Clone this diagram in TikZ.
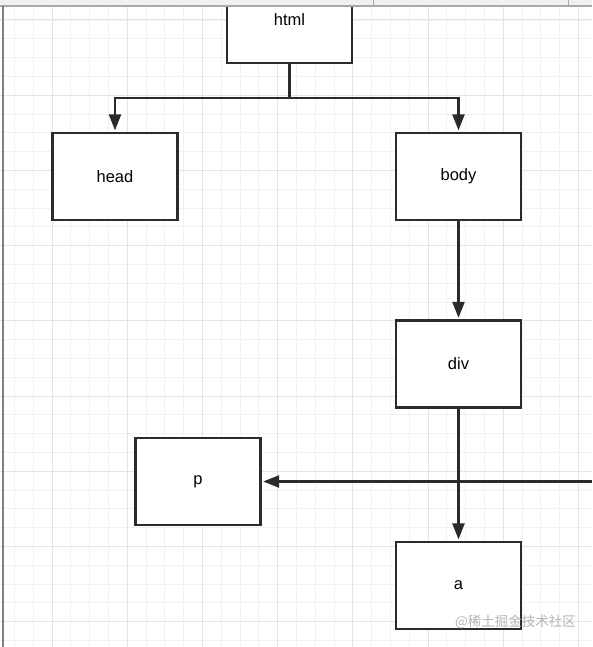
\documentclass[tikz,border=0pt]{standalone}
\usepackage{fontspec}
\setmainfont{Liberation Sans}
\newfontfamily\cjkfont{Noto Sans CJK SC}
\usepackage{xcolor}
\usepackage{tikz}
\usetikzlibrary{calc}
\usetikzlibrary{arrows.meta}

\definecolor{inkgray}{HTML}{2B2B2B}
\definecolor{gridminor}{HTML}{F1F1F1}
\definecolor{gridmajor}{HTML}{E4E4E4}
\definecolor{barfill}{HTML}{F0F0F0}
\definecolor{barline}{HTML}{A8A8A8}
\definecolor{markgray}{HTML}{B4B4B4}

\begin{document}
\begin{tikzpicture}[
    x = 1pt,
    y = -1pt,
    font = \fontsize{16.5}{18}\selectfont,
    tagbox/.style = {
      rectangle,
      draw=inkgray,
      fill=white,
      line width=2.2pt,
      minimum width=125pt,
      minimum height=87pt,
      inner sep=0pt
    },
    link/.style = {
      draw=inkgray,
      line width=2.2pt
    },
    linkarrow/.style = {
      link,
      -{Triangle[length=16pt,width=12pt]},
      shorten >=1.5pt
    },
    minorline/.style = {
      draw=gridminor,
      line width=0.9pt
    },
    majorline/.style = {
      draw=gridmajor,
      line width=1pt
    }
  ]
    \useasboundingbox (0,0) rectangle (592,647);
    \clip (0,0) rectangle (592,647);
    \fill[white] (0,0) rectangle (592,647);

    % grid
    \foreach \i in {-3,...,29}
      \draw[minorline] ({52+18.8*\i},0) -- ++(0,647);
    \foreach \i in {-2,...,33}
      \draw[minorline] (0,{20+18.8*\i}) -- ++(592,0);
    \foreach \i in {-1,...,7}
      \draw[majorline] ({52+75.2*\i},0) -- ++(0,647);
    \foreach \i in {0,...,8}
      \draw[majorline] (0,{20+75.2*\i}) -- ++(592,0);

    % nodes
    \node[tagbox] (html) at (289.5,19.5) {html};
    \node[tagbox] (head) at (115,176.5) {head};
    \node[tagbox] (body) at (458.5,176.5) {body};
    \node[tagbox] (div) at (458.5,364) {div};
    \node[tagbox] (p) at (198,481.5) {p};
    \node[tagbox] (a) at (458.5,585.5) {a};

    \coordinate (fork) at (html.south |- 0,98);
    \coordinate (edge) at (p.east -| 592,0);

    \draw[link] (html.south) -- (fork);
    \draw[linkarrow] (fork) -| (head.north);
    \draw[linkarrow] (fork) -| (body.north);
    \draw[linkarrow] (body) -- (div);
    \draw[linkarrow] (div) -- (a);
    \draw[linkarrow] (edge) -- (p);

    % window frame
    \fill[barfill] (0,0) rectangle (592,6);
    \draw[barline, line width=1.2pt] (0,6) -- (592,6);
    \draw[barline, line width=1pt] (373,0) -- (373,6);
    \draw[barline, line width=1pt] (568,0) -- (568,6);
    \draw[gray, line width=1.5pt] (3,6) -- (3,647);

    \node[text=markgray, font=\cjkfont\fontsize{13.5}{15}\selectfont, anchor=east, inner sep=0pt] (mark) at (576,622) {@稀土掘金技术社区};

  \end{tikzpicture}
\end{document}
